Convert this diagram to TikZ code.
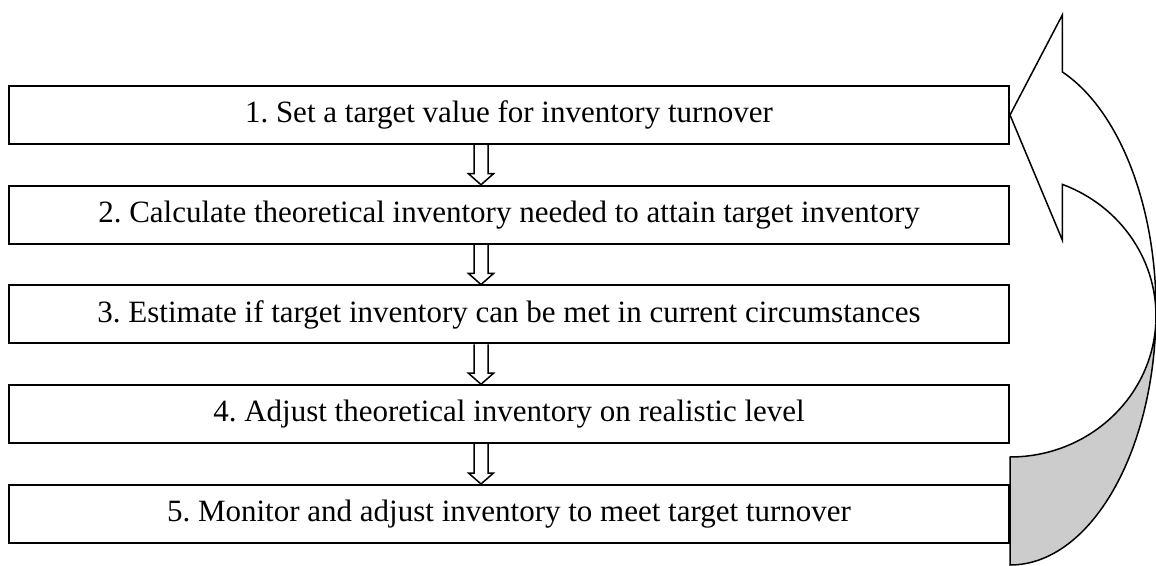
\documentclass[tikz,border=0pt]{standalone}
\usepackage{fontspec}
\setmainfont{Liberation Serif}
\frenchspacing
\usetikzlibrary{calc}
\newcommand\hollowarrow[2]{%
  \draw[hollow] ($(#1.south -| ax)+(-7,0)$) -- ($(#2.north -| ax)+(-7,11)$) -- ($(#2.north -| ax)+(-12.5,11)$) -- (#2.north -| ax) -- ($(#2.north -| ax)+(12.5,11)$) -- ($(#2.north -| ax)+(7,11)$) -- ($(#1.south -| ax)+(7,0)$);}
\begin{document}
\begin{tikzpicture}[x=1pt,y=1pt,
  stepbox/.style={draw, line width=2pt, minimum width=1000pt, minimum height=58pt, inner sep=0pt, font=\fontsize{31}{37}\selectfont\frenchspacing},
  hollow/.style={draw, line width=1.5pt, line join=miter},
  bigarrow/.style={draw, line width=1.5pt, line join=miter}]
\useasboundingbox (0,0) rectangle (1156,565);
\node[stepbox] (b1) at (509,450) {1. Set a target value for inventory turnover};
\node[stepbox] (b2) at (509,350.25) {2. Calculate theoretical inventory needed to attain target inventory};
\node[stepbox] (b3) at (509,250.5) {3. Estimate if target inventory can be met in current circumstances};
\node[stepbox] (b4) at (509,150.75) {4. Adjust theoretical inventory on realistic level};
\node[stepbox] (b5) at (509,51) {5. Monitor and adjust inventory to meet target turnover};
\coordinate (ax) at (481,0);
\hollowarrow{b1}{b2}
\hollowarrow{b2}{b3}
\hollowarrow{b3}{b4}
\hollowarrow{b4}{b5}
\coordinate (CA) at (1010,255);
\coordinate (CB) at (1010,249);
\coordinate (hu) at (1062.3,550);
\coordinate (hl) at (1062.3,325);
\draw[bigarrow, fill=white] (b1.east) -- (hu) -- ($(CA)+(69:146pt and 255pt)$)
  arc[start angle=69, end angle=-3, x radius=146pt, y radius=255pt]
  -- ($(CB)+(-3:146pt and 141pt)$)
  arc[start angle=-3, end angle=69, x radius=146pt, y radius=141pt]
  -- (hl) -- cycle;
\draw[bigarrow, fill=gray!40] ($(CA)+(-3:146pt and 255pt)$)
  arc[start angle=-3, end angle=-90, x radius=146pt, y radius=255pt]
  -- ($(CB)+(-90:146pt and 141pt)$)
  arc[start angle=-90, end angle=-3, x radius=146pt, y radius=141pt] -- cycle;
\end{tikzpicture}
\end{document}
